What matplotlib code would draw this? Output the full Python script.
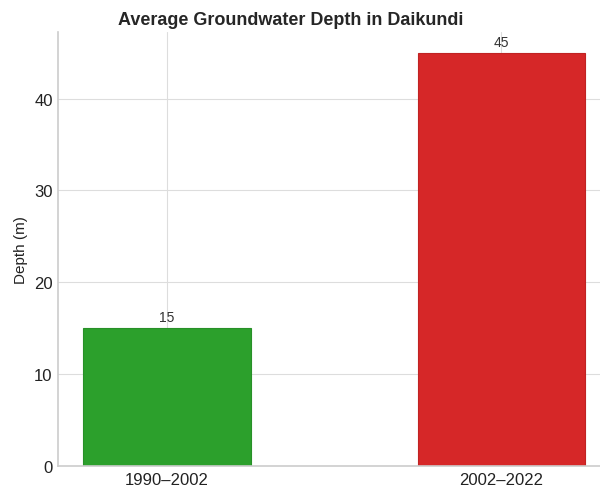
import matplotlib
matplotlib.use('Agg')
import matplotlib.pyplot as plt
import seaborn as sns

periods = ['1990\u20132002', '2002\u20132022']
depths = [15, 45]
colors = ['#2ca02c', '#d62728']

sns.set_style('whitegrid')
plt.rcParams['font.family'] = ['Liberation Sans', 'DejaVu Sans']

fig = plt.figure(figsize=(6, 4.89), dpi=100)
ax = fig.add_axes([0.097, 0.045, 0.92, 0.8875])

bars = ax.bar(periods, depths, width=0.5, color=colors, edgecolor=['#289028', '#c02323'], linewidth=0.8)
ax.bar_label(bars, labels=[str(d) for d in depths], padding=3, fontsize=10, color='#333333')

# title sits left of the axes centre in the reference
ax.set_title('Average Groundwater Depth in Daikundi', fontsize=13, fontweight='bold', pad=6, x=0.422)
ax.set_ylabel('Depth (m)', fontsize=11, color='#222222')
ax.tick_params(axis='both', labelsize=12, colors='#222222', length=0, pad=4)

for side in ['top', 'right']:
    ax.spines[side].set_visible(False)
for side in ['left', 'bottom']:
    ax.spines[side].set_color('#cccccc')
    ax.spines[side].set_linewidth(1.2)
ax.grid(color='#dddddd')

fig.savefig('out.png', dpi=100)
